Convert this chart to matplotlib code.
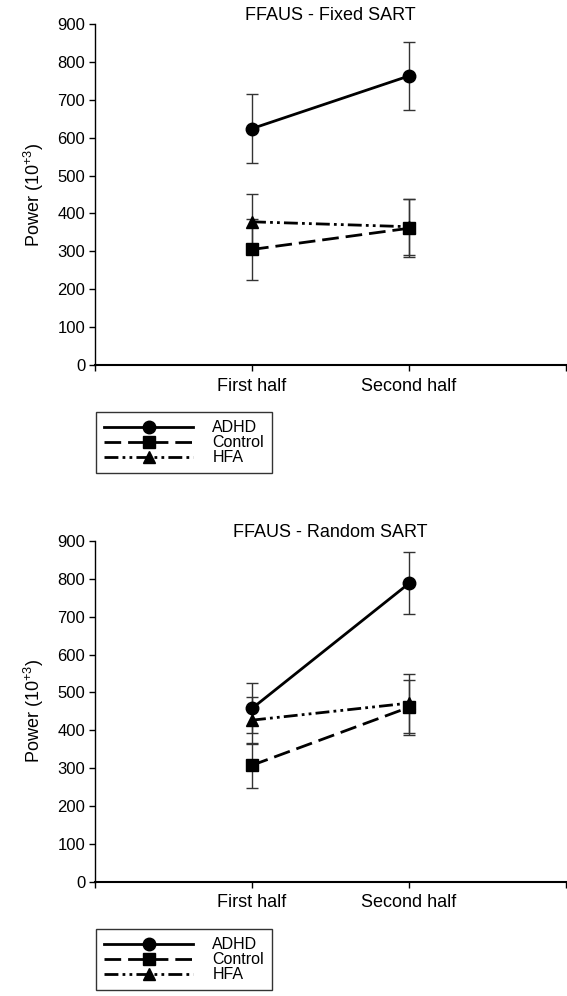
import numpy as np
import matplotlib
matplotlib.use('Agg')
from matplotlib import pyplot as plt

plt.rcParams['font.family'] = ['Liberation Sans', 'DejaVu Sans']
plt.rcParams['mathtext.default'] = 'regular'

#### data (power, 10^3)
halves = ['First half', 'Second half']
groups = ['ADHD', 'Control', 'HFA']

fixed_adhd = [624, 763]
fixed_adhd_err = [92, 90]
fixed_control = [305, 361]
fixed_control_err = [80, 77]
fixed_hfa = [378, 365]
fixed_hfa_err = [73, 74]

random_adhd = [458, 788]
random_adhd_err = [66, 82]
random_control = [308, 461]
random_control_err = [60, 72]
random_hfa = [427, 472]
random_hfa_err = [62, 78]

yticks = [0, 100, 200, 300, 400, 500, 600, 700, 800, 900]

#### line styles per group
styles = {
    'ADHD': dict(marker='o', ms=9, ls='-', z=4),
    'Control': dict(marker='s', ms=8, ls=(0, (6, 2.5)), z=5),
    'HFA': dict(marker='^', ms=8, ls=(0, (5, 1.5, 1, 1.5, 1, 1.5)), z=3),
}

fig = plt.figure(figsize=(5.67, 9.96), dpi=100)

def draw_panel(rect, title, series, legend_top):
    ax = fig.add_axes(rect)
    x = np.arange(1, len(halves) + 1)
    for name, vals, errs in series:
        st = styles[name]
        ax.errorbar(x, vals, yerr=errs, fmt='none', ecolor='#333333',
                    elinewidth=1, capsize=4, capthick=1, zorder=2)
        ax.plot(x, vals, color='black', lw=2, ls=st['ls'], marker=st['marker'],
                ms=st['ms'], mfc='black', mec='black', label=name, zorder=st['z'])
    ax.set_xlim(0, 3)
    ax.set_ylim(0, 900)
    ax.set_yticks(yticks)
    ax.set_xticks([0, 1, 2, 3])
    ax.set_xticklabels([''] + halves + [''])
    ax.tick_params(axis='both', direction='out', length=4, width=1)
    ax.tick_params(axis='y', labelsize=12, pad=3)
    ax.tick_params(axis='x', labelsize=13, pad=5)
    for s in ['top', 'right']:
        ax.spines[s].set_visible(False)
    ax.spines['left'].set_linewidth(1)
    ax.spines['bottom'].set_linewidth(1.5)
    ax.set_ylabel('Power (10$^{+3}$)', fontsize=13, labelpad=8)
    ax.set_title(title, fontsize=13, pad=3)
    h, l = ax.get_legend_handles_labels()
    order = [l.index(g) for g in groups]
    leg = fig.legend([h[i] for i in order], [l[i] for i in order],
                     loc='upper left', bbox_to_anchor=(0.169, legend_top),
                     bbox_transform=fig.transFigure, fontsize=11.5, frameon=True,
                     fancybox=False, edgecolor='black', handlelength=5.6,
                     handletextpad=1.2, labelspacing=0.0, borderpad=0.5,
                     numpoints=1, borderaxespad=0)
    leg.get_frame().set_linewidth(1)
    return ax

draw_panel([0.1676, 0.6335, 0.8307, 0.3424], 'FFAUS - Fixed SART',
           [('ADHD', fixed_adhd, fixed_adhd_err),
            ('HFA', fixed_hfa, fixed_hfa_err),
            ('Control', fixed_control, fixed_control_err)], 0.586)

draw_panel([0.1676, 0.1145, 0.8307, 0.3424], 'FFAUS - Random SART',
           [('ADHD', random_adhd, random_adhd_err),
            ('HFA', random_hfa, random_hfa_err),
            ('Control', random_control, random_control_err)], 0.067)

fig.savefig('out.png', dpi=100)
